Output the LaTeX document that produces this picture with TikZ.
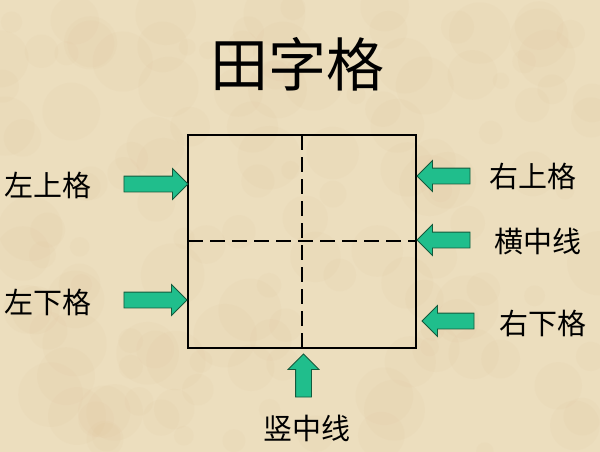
\documentclass[tikz,border=0pt]{standalone}
\usepackage{fontspec}
\newfontfamily\cjk{Noto Sans CJK SC}
\usetikzlibrary{shapes.arrows}
\definecolor{paper}{RGB}{236,222,190}
\definecolor{arrowgreen}{RGB}{32,190,140}
\definecolor{arrowedge}{RGB}{20,90,60}
\tikzset{
    gridline/.style={line width=2.8pt, black},
    midline/.style={line width=2.8pt, black, dash pattern=on 15pt off 7pt},
    greenarrow/.style={single arrow, fill=arrowgreen, draw=arrowedge, line width=0.8pt,
        inner sep=0pt, minimum width=30pt, single arrow head extend=7.5pt,
        single arrow head indent=0pt, text width=15pt, text height=15pt, text depth=0pt},
    label/.style={font=\cjk\fontsize{29}{29}\selectfont, inner sep=0pt}
}
\begin{document}
\begin{tikzpicture}[x=1pt, y=-1pt]
    \useasboundingbox (0,0) rectangle (600,452);
    \clip (0,0) rectangle (600,452);
    \fill[paper] (0,0) rectangle (600,452);
    % parchment blotches
    \pgfmathsetseed{7}
    \foreach \i in {1,...,140} {
        \pgfmathsetmacro{\px}{rnd*600}
        \pgfmathsetmacro{\py}{rnd*452}
        \pgfmathsetmacro{\pr}{8+rnd*25}
        \fill[brown!50!paper, opacity=0.05] (\px,\py) circle (\pr);
    }

    \coordinate (tl) at (188,135); \coordinate (br) at (416,348);
    \coordinate (ml) at (188,241); \coordinate (mr) at (416,241);
    \coordinate (mt) at (302,135); \coordinate (mb) at (302,348);

    \draw[midline] (ml)--(mr); \draw[midline] (mt)--(mb);
    \draw[gridline] (tl) rectangle (br);

    \node[font=\cjk\fontsize{58}{58}\selectfont, inner sep=0pt] (title) at (297,64) {田字格};

    \node[greenarrow, minimum height=64pt] (aLU) at (152,184) {};
    \node[greenarrow, minimum height=63pt] (aLD) at (151.5,300) {};
    \node[greenarrow, minimum height=53pt, shape border rotate=180] (aRU) at (447.5,176) {};
    \node[greenarrow, minimum height=53pt, shape border rotate=180] (aRM) at (447.5,240) {};
    \node[greenarrow, minimum height=52pt, shape border rotate=180] (aRD) at (452,321) {};
    \node[greenarrow, minimum height=43pt, shape border rotate=90] (aB) at (303.5,379.5) {};

    \node[label] (lLU) at (48,185) {左上格};
    \node[label] (lLD) at (48,302) {左下格};
    \node[label] (lRU) at (533,176) {右上格};
    \node[label] (lRM) at (538,241) {横中线};
    \node[label] (lRD) at (543,323) {右下格};
    \node[label] (lB) at (307,428) {竖中线};
\end{tikzpicture}
\end{document}
